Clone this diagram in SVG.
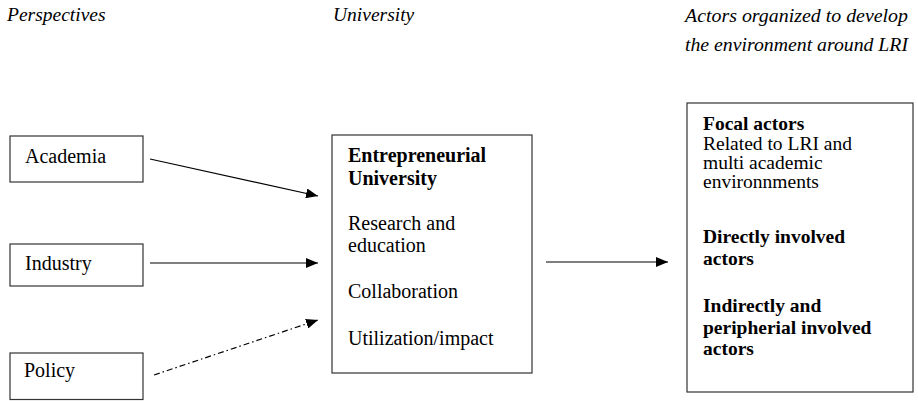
<svg xmlns="http://www.w3.org/2000/svg" width="918" height="401" viewBox="0 0 918 401">
<style>
  text { font-family: "Liberation Serif", "Times New Roman", serif; font-size: 20px; fill: #000; }
  .hdr { font-style: italic; font-size: 19.5px; }
  .b { font-weight: bold; }
  .rt { font-size: 19.5px; }
  .box { fill: #fff; stroke: #333; stroke-width: 1.2; }
  .conn { stroke: #000; stroke-width: 1.2; fill: none; }
  .dashdot { stroke-dasharray: 6 3 1.5 3; }
</style>
<defs>
  <marker id="arrow" markerUnits="userSpaceOnUse" markerWidth="12" markerHeight="10" refX="12" refY="5" orient="auto">
    <path d="M0,0 L12,5 L0,10 z" fill="#000"/>
  </marker>
</defs>
<rect width="918" height="401" fill="#fff"/>
<g id="headers">
  <text class="hdr" x="7" y="21">Perspectives</text>
  <text class="hdr" x="333" y="21">University</text>
  <text class="hdr" x="685" y="22" textLength="223" lengthAdjust="spacingAndGlyphs">Actors organized to develop</text>
  <text class="hdr" x="685" y="51" textLength="223" lengthAdjust="spacingAndGlyphs">the environment around LRI</text>
</g>
<g id="academia">
  <rect class="box" x="10" y="136" width="133" height="46"/>
  <text x="25" y="163">Academia</text>
</g>
<g id="industry">
  <rect class="box" x="10" y="244" width="133" height="42"/>
  <text x="25" y="270">Industry</text>
</g>
<g id="policy">
  <rect class="box" x="10" y="353" width="133" height="46.5"/>
  <text x="24" y="377">Policy</text>
</g>
<g id="university">
  <rect class="box" x="332" y="135" width="200" height="238"/>
  <text class="b" x="348" y="162">Entrepreneurial</text>
  <text class="b" x="348" y="185">University</text>
  <text x="348" y="230">Research and</text>
  <text x="348" y="252">education</text>
  <text x="348" y="298">Collaboration</text>
  <text x="348" y="345">Utilization/impact</text>
</g>
<g id="actors">
  <rect class="box" x="687" y="103" width="226" height="289"/>
  <text class="b rt" x="703" y="130">Focal actors</text>
  <text class="rt" x="703" y="149.5">Related to LRI and</text>
  <text class="rt" x="703" y="168.5">multi academic</text>
  <text class="rt" x="703" y="188">environnments</text>
  <text class="b rt" x="703" y="243">Directly involved</text>
  <text class="b rt" x="703" y="265">actors</text>
  <text class="b rt" x="703" y="312">Indirectly and</text>
  <text class="b rt" x="703" y="333.5">peripherial involved</text>
  <text class="b rt" x="703" y="355">actors</text>
</g>
<g id="connectors">
  <line class="conn" x1="150" y1="159" x2="318" y2="196" marker-end="url(#arrow)"/>
  <line class="conn" x1="150" y1="263" x2="318" y2="263" marker-end="url(#arrow)"/>
  <line class="conn dashdot" x1="154" y1="375" x2="318" y2="320" marker-end="url(#arrow)"/>
  <line class="conn" x1="546" y1="262" x2="668" y2="262" marker-end="url(#arrow)"/>
</g>
</svg>
